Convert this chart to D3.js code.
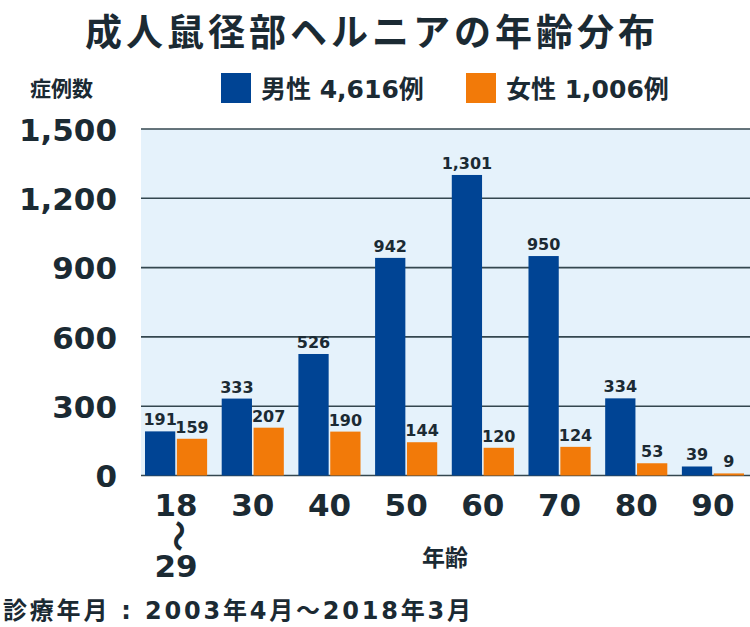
<!DOCTYPE html>
<html><head><meta charset="utf-8">
<script src="https://cdn.jsdelivr.net/npm/d3@7"></script>
<style>
body{margin:0;background:#fff;}
text{font-family:"DejaVu Sans","Noto Sans CJK JP",sans-serif;font-weight:bold;fill:#1b2a33;}
.jp{font-family:"Noto Sans CJK JP",sans-serif;}
</style></head>
<body>
<svg id="c" width="750" height="627"></svg>
<script>
const categories = ["18", "30", "40", "50", "60", "70", "80", "90"];
const male = [191, 333, 526, 942, 1301, 950, 334, 39];
const female = [159, 207, 190, 144, 120, 124, 53, 9];
const seriesNames = ["男性 4,616例", "女性 1,006例"];
const yTicks = [0, 300, 600, 900, 1200, 1500];
const colors = ["#004494", "#f27a09"];

const svg = d3.select("#c");
const plot = {left:141, right:750, top:129, bottom:475.5};

svg.append("rect").attr("x",plot.left).attr("y",plot.top)
  .attr("width",plot.right-plot.left).attr("height",plot.bottom-plot.top)
  .attr("fill","#e5f2fb");

const y = d3.scaleLinear().domain([0,1500]).range([plot.bottom, plot.top]);
const x = d3.scaleBand().domain(categories).range([145, 744]).paddingInner(0.19).paddingOuter(0);
const xi = d3.scaleBand().domain([0,1]).range([0, x.bandwidth()]).paddingInner(0.05);

// grid
svg.append("g").selectAll("line").data(yTicks).join("line")
  .attr("x1",plot.left).attr("x2",plot.right)
  .attr("y1",d=>y(d)).attr("y2",d=>y(d))
  .attr("stroke","#34474f").attr("stroke-width",1.6);

// y axis
const ya = svg.append("g").attr("transform",`translate(${plot.left},0)`)
  .call(d3.axisLeft(y).tickValues(yTicks).tickFormat(d3.format(",")).tickSize(0).tickPadding(24));
ya.select(".domain").remove();
ya.selectAll("text").attr("font-size",31).attr("font-family","DejaVu Sans").attr("font-weight","bold").attr("fill","#1b2a33").attr("dy","0.36em");

const data = categories.map((c,i)=>({c, v:[male[i], female[i]]}));
const g = svg.append("g").selectAll("g").data(data).join("g")
  .attr("transform",d=>`translate(${x(d.c)},0)`);
g.selectAll("rect").data(d=>d.v.map((v,k)=>({v,k}))).join("rect")
  .attr("x",d=>xi(d.k)).attr("width",xi.bandwidth())
  .attr("y",d=>y(d.v)).attr("height",d=>y(0)-y(d.v))
  .attr("fill",d=>colors[d.k]);
g.selectAll("text").data(d=>d.v.map((v,k)=>({v,k}))).join("text")
  .attr("x",d=>xi(d.k)+xi.bandwidth()/2).attr("y",d=>y(d.v)-6)
  .attr("text-anchor","middle").attr("font-size",16)
  .text(d=>d3.format(",")(d.v));

// x labels
svg.append("g").selectAll("text").data(categories).join("text")
  .attr("x",d=>x(d)+x.bandwidth()/2).attr("y",516)
  .attr("text-anchor","middle").attr("font-size",31).text(d=>d);
const c0 = x(categories[0])+x.bandwidth()/2;
svg.append("text").attr("class","jp").attr("font-size",32).attr("font-weight","normal")
  .attr("transform",`translate(${c0+2},536) rotate(90)`)
  .attr("text-anchor","middle").attr("dy","0.35em").text("〜");
svg.append("text").attr("x",c0).attr("y",577).attr("text-anchor","middle").attr("font-size",31).text("29");
svg.append("text").attr("class","jp").attr("x",445).attr("y",566).attr("text-anchor","middle").attr("font-size",23).text("年齢");

// title
svg.append("text").attr("class","jp").attr("x",372).attr("y",46).attr("text-anchor","middle")
  .attr("font-size",37).attr("letter-spacing",4).text("成人鼠径部ヘルニアの年齢分布");
svg.append("text").attr("class","jp").attr("x",30).attr("y",96).attr("font-size",21).text("症例数");

// legend
const legX = [221, 466];
const lg = svg.append("g").selectAll("g").data(seriesNames).join("g")
  .attr("transform",(d,i)=>`translate(${legX[i]},73)`);
lg.append("rect").attr("width",30).attr("height",30).attr("fill",(d,i)=>colors[i]);
lg.append("text").attr("x",40).attr("y",25).attr("font-size",25)
  .attr("font-family","Noto Sans CJK JP").text(d=>d);

// footer
svg.append("text").attr("x",3).attr("y",619).attr("font-size",24).attr("letter-spacing",2.8)
  .text("診療年月 : 2003年4月～2018年3月");
</script>
</body></html>
